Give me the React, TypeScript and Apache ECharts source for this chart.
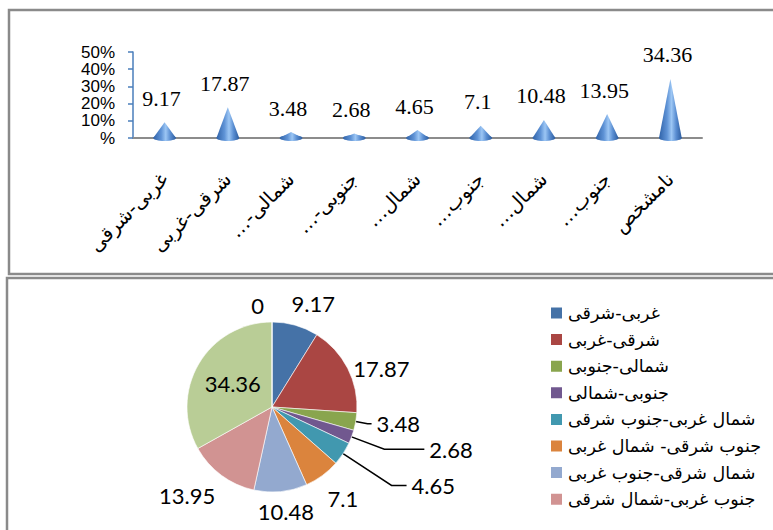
import React, { useEffect, useRef } from "react";
import * as echarts from "echarts";

// ---------- data ----------
const categories = [
  "غربی-شرقی",
  "شرقی-غربی",
  "شمالی-جنوبی",
  "جنوبی-شمالی",
  "شمال غربی-جنوب شرقی",
  "جنوب شرقی- شمال غربی",
  "شمال شرقی-جنوب غربی",
  "جنوب غربی-شمال شرقی",
  "نامشخص",
];
const axisTickLabels = [
  "غربی-شرقی",
  "شرقی-غربی",
  "شمالی-…",
  "جنوبی-…",
  "شمال…",
  "جنوب…",
  "شمال…",
  "جنوب…",
  "نامشخص",
];
const values = [9.17, 17.87, 3.48, 2.68, 4.65, 7.1, 10.48, 13.95, 34.36];
const yTickLabels = ["%", "10%", "20%", "30%", "40%", "50%"];
const legendNames = categories.slice(0, 8);
const zeroSliceName = "-";
const zeroSliceValue = 0;
const pieColors = [
  "#4572A7",
  "#AA4643",
  "#89A54E",
  "#71588F",
  "#4198AF",
  "#DB843D",
  "#93A9CF",
  "#D19392",
  "#B9CD96",
  "#A47D7C",
];

export default function App() {
  const ref = useRef<HTMLDivElement>(null);

  useEffect(() => {
    if (!ref.current) return;
    const chart = echarts.init(ref.current, undefined, { renderer: "svg" });

    const coneGradient = () =>
      new echarts.graphic.LinearGradient(0, 0, 1, 0, [
        { offset: 0, color: "#2f62a8" },
        { offset: 0.35, color: "#5f93d6" },
        { offset: 0.55, color: "#9cc6f4" },
        { offset: 0.75, color: "#5a8ed2" },
        { offset: 1, color: "#2c5c9e" },
      ]);

    // leader-line settings per slice (style)
    const lineCfg: Record<number, { length: number; length2: number }> = {
      2: { length: 12, length2: 4 },
      3: { length: 35, length2: 40 },
      4: { length: 58, length2: 15 },
    };
    // label nudges (style) for labels without leader lines
    const labelShift: Record<number, [number, number]> = {
      0: [-12, -10],
      1: [-10, 6],
      5: [-7, 13],
      6: [-29, 8],
      7: [6, 11],
      9: [-3, -3],
    };

    const pieData = values
      .map((v, i) => {
        const item: any = { name: categories[i], value: v };
        if (lineCfg[i]) {
          item.labelLine = { show: true, ...lineCfg[i] };
        }
        if (i === 8) {
          item.label = { position: "inside" };
        }
        return item;
      })
      .concat([
        {
          name: zeroSliceName,
          value: zeroSliceValue,
          labelLine: { show: false, length: 14, length2: 0 },
        } as any,
      ]);

    chart.setOption({
      animation: false,
      backgroundColor: "#ffffff",
      color: pieColors,
      graphic: [
        {
          type: "rect",
          shape: { x: 9, y: 10, width: 790, height: 264 },
          style: { fill: "none", stroke: "#8a8a8a", lineWidth: 2.5 },
          silent: true,
        },
        {
          type: "rect",
          shape: { x: 7, y: 278, width: 790, height: 280 },
          style: { fill: "none", stroke: "#8a8a8a", lineWidth: 2.5 },
          silent: true,
        },
      ],
      grid: { left: 133, top: 52, width: 569, height: 86, containLabel: false },
      xAxis: {
        type: "category",
        data: categories,
        axisLine: { show: true, lineStyle: { color: "#8c8c8c", width: 2 } },
        axisTick: { show: false },
        axisLabel: {
          interval: 0,
          rotate: 45,
          margin: 38,
          fontSize: 19.5,
          fontFamily: "'DejaVu Sans', serif",
          color: "#000",
          formatter: (_v: string, i: number) => axisTickLabels[i] + "\u200F",
        },
        splitLine: { show: false },
      },
      yAxis: {
        type: "value",
        min: 0,
        max: 50,
        interval: 10,
        axisLine: { show: true, lineStyle: { color: "#4a7ebb", width: 1.5 } },
        axisTick: { show: true, length: 5, lineStyle: { color: "#4a7ebb", width: 1.5 } },
        splitLine: { show: false },
        axisLabel: {
          margin: 18,
          fontSize: 17,
          fontFamily: "'Liberation Sans', Arial, sans-serif",
          color: "#000",
          formatter: (_v: number, i: number) => yTickLabels[i],
        },
      },
      series: [
        {
          type: "custom",
          data: values.map((v, i) => [i, v]),
          encode: { x: 0, y: 1 },
          clip: false,
          renderItem: (_params: any, api: any) => {
            const idx = api.value(0);
            const v = api.value(1);
            const base = api.coord([idx, 0]);
            const tip = api.coord([idx, v]);
            const halfW = api.size([1, 0])[0] * 0.18;
            return {
              type: "group",
              children: [
                {
                  type: "ellipse",
                  shape: { cx: base[0], cy: base[1], rx: halfW, ry: 3 },
                  style: { fill: coneGradient() },
                },
                {
                  type: "polygon",
                  shape: {
                    points: [
                      [base[0] - halfW, base[1]],
                      [tip[0], tip[1]],
                      [base[0] + halfW, base[1]],
                    ],
                  },
                  style: { fill: coneGradient() },
                },
                {
                  type: "text",
                  x: tip[0] - 3,
                  y: tip[1] - 24,
                  style: {
                    text: String(v),
                    fontSize: 22,
                    fontFamily: "'Liberation Serif', 'Times New Roman', serif",
                    fill: "#000",
                    align: "center",
                    verticalAlign: "middle",
                  },
                },
              ],
            };
          },
        },
        {
          type: "pie",
          center: [272, 407],
          radius: 85,
          startAngle: 90,
          clockwise: true,
          avoidLabelOverlap: false,
          data: pieData,
          itemStyle: { borderColor: "#ffffff", borderWidth: 0.6 },
          label: {
            show: true,
            position: "outside",
            formatter: "{c}",
            fontSize: 22,
            fontFamily: "Lato, 'Open Sans', sans-serif",
            color: "#000",
          },
          labelLine: {
            show: false,
            length: 12,
            length2: 0,
            lineStyle: { color: "#000", width: 1.5 },
          },
          labelLayout: (params: any) => {
            const s = labelShift[params.dataIndex];
            return s
              ? { hideOverlap: false, dx: s[0], dy: s[1] }
              : { hideOverlap: false };
          },
          emphasis: { disabled: true },
        },
      ],
      legend: {
        orient: "vertical",
        left: 549,
        top: 304,
        padding: 0,
        data: legendNames,
        icon: "rect",
        itemWidth: 13,
        itemHeight: 13,
        itemGap: 8.6,
        textStyle: {
          fontSize: 17.5,
          lineHeight: 18,
          fontFamily: "'DejaVu Sans', sans-serif",
          color: "#000",
        },
      },
    });

    return () => chart.dispose();
  }, []);

  return (
    <div
      ref={ref}
      style={{ position: "absolute", left: 0, top: 0, width: 773, height: 530 }}
    />
  );
}
